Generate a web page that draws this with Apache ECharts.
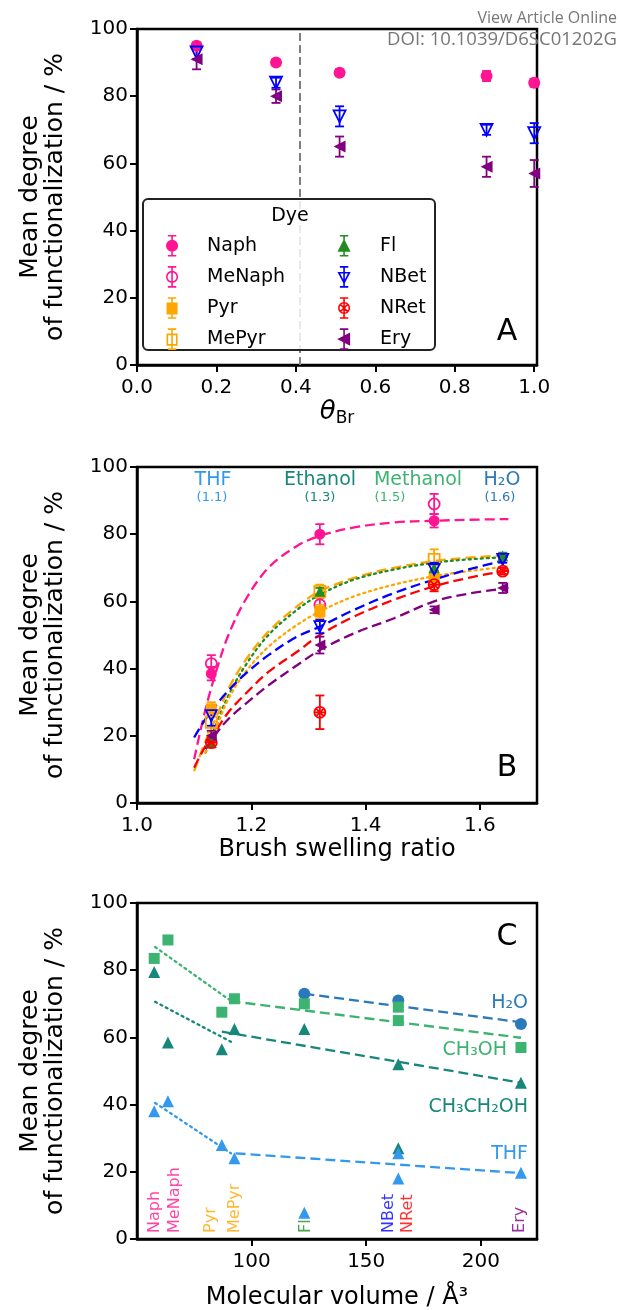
<!DOCTYPE html>
<html><head><meta charset="utf-8">
<script src="https://cdn.jsdelivr.net/npm/echarts@6/dist/echarts.min.js"></script>
<style>html,body{margin:0;padding:0;background:#fff}#c{width:620px;height:1310px}</style>
</head><body><div id="c"></div>
<script>
// ================= DATA =================
const dyes = ['Naph','MeNaph','Pyr','MePyr','Fl','NBet','NRet','Ery'];
const pctTicks = [0, 20, 40, 60, 80, 100];

// ---- Panel A: degree vs theta_Br ----
const thetaTicks = [0, 0.2, 0.4, 0.6, 0.8, 1.0];
const thetaBr = [0.15, 0.35, 0.51, 0.88, 1.0];
const aNaph = [95, 90, 87, 86, 84];
const aNaphErr = [1, 0.8, 1, 1.5, 1.2];
const aNBet = [93, 84, 74, 70, 69];
const aNBetErr = [2, 1.5, 3, 1.5, 3];
const aEry = [91, 80, 65, 59, 57];
const aEryErr = [3, 2, 3, 3, 4];
const thetaDivider = 0.41;

// ---- Panel B: degree vs brush swelling ratio ----
const swellingTicks = [1.0, 1.2, 1.4, 1.6];
const swelling = [1.13, 1.32, 1.52, 1.64];          // THF, Ethanol, Methanol, H2O
const solventNames = ['THF', 'Ethanol', 'Methanol', 'H₂O'];
const solventRatios = ['(1.1)', '(1.3)', '(1.5)', '(1.6)'];
const bNaph   = [38.5, 80, 84, null];   const bNaphErr   = [2, 3, 2, 0];
const bMeNaph = [41.5, 59, 89, null];   const bMeNaphErr = [2.5, 2, 3, 0];
const bPyr    = [28, 57, 67, null];     const bPyrErr    = [2, 2, 2, 0];
const bMePyr  = [24, 63, 72.5, null];   const bMePyrErr  = [3, 2, 3, 0];
const bFl     = [18, 63, 70, 73.5];     const bFlErr     = [1, 1, 1, 1];
const bNBet   = [26, 52.5, 69.5, 72.5]; const bNBetErr   = [3, 2, 2, 1];
const bNRet   = [18, 27, 65, 69];       const bNRetErr   = [1.5, 5, 2, 1];
const bEry    = [20, 47, 57.5, 64];     const bEryErr    = [1.5, 2.5, 1, 1.5];
// fitted curves
const fitX      = [1.10, 1.12, 1.14, 1.16, 1.19, 1.23, 1.28, 1.32, 1.38, 1.45, 1.52, 1.58, 1.65];
const fitNaph   = [13, 28, 40, 50, 60.5, 70, 76.5, 79.5, 82, 83.5, 84, 84.3, 84.5];
const fitMePyr  = [9.5, 18.5, 26, 34, 42.5, 51, 58.5, 63, 67, 70, 72, 73, 73.8];
const fitFl     = [null, 15, 24, 32, 41, 50, 57.5, 62, 66.5, 69.5, 71.5, 72.5, 73.2];
const fitPyr    = [null, 15, 23, 31, 39, 46.5, 53, 57, 61.5, 65, 67.5, 69, 70.5];
const fitNBet   = [19.5, 25, 29.5, 33.5, 38.5, 44, 49.5, 52.5, 57.5, 62.5, 66.5, 69.5, 72.5];
const fitNRet   = [10.5, 17, 22, 27, 32.5, 39, 45, 50, 55.5, 60.5, 64.5, 67, 69.3];
const fitEry    = [null, 16, 21, 25, 29.5, 35, 41, 45.5, 50.5, 55, 60, 62.3, 64];

// ---- Panel C: degree vs molecular volume ----
const volumeTicks = [100, 150, 200];
const molVolume = [57.5, 63.5, 87, 92.5, 123, 164, 164, 217.5];   // per dye
const labelVolume = [57.9, 66.6, 82.4, 92.9, 123.5, 159.8, 168.1, 217.1];
const cH2O  = [null, null, null, null, 73, 71, null, 64];
const cMeOH = [83.5, 89, 67.5, 71.5, 70, 69, 65, 57];
const cEtOH = [79.5, 58.5, 56.5, 62.5, 62.5, 52, 27, 46.5];
const cTHF  = [38, 41, 28, 24, 7.8, 25.5, 18, 19.7];
const trendH2Odash  = [[123, 73], [217.5, 64.5]];
const trendMeOHdot  = [[57.9, 86.9], [91.5, 70.6]];
const trendMeOHdash = [[90.8, 70.8], [217.5, 59.9]];
const trendEtOHdot  = [[57.9, 70.6], [91, 58.7]];
const trendEtOHdash = [[87, 61.7], [217.5, 46.5]];
const trendTHFdot   = [[57.9, 40.5], [91, 25.5]];
const trendTHFdash  = [[93, 25.5], [217.5, 19.6]];

// ================= STYLE =================
const F = 'DejaVu Sans';
const TICK_FS = 20;
const PINK = '#ff1493', ORANGE = '#ffa500', GREEN = '#228b22', BLUE = '#0000ff', RED = '#ff0000', PURPLE = '#800080';
const C_H2O = '#2b79b9', C_MEOH = '#3cb371', C_ETOH = '#17877b', C_THF = '#3399ee';
const SYM = {
  circle: 'circle',
  square: 'rect',
  triUp: 'triangle',
  triDown: 'path://M0,0L10,0L5,9Z',
  triLeft: 'path://M0,5L9,0L9,10Z',
  nret: 'path://M5,0A5,5,0,1,1,5,10A5,5,0,1,1,5,0ZM1.6,1.6L8.4,8.4M8.4,1.6L1.6,8.4M0,5L10,5'
};
const ICON = {
  circle: 'M6,4.5A5,5,0,1,1,6,14.5A5,5,0,1,1,6,4.5Z',
  square: 'M1.5,5L10.5,5L10.5,15L1.5,15Z',
  triUp: 'M6,4.5L11,14.5L1,14.5Z',
  triDown: 'M1,5.5L11,5.5L6,15Z',
  triLeft: 'M1,9.5L11,4.5L11,14.5Z',
  nret: 'M6,4.5A5,5,0,1,1,6,14.5A5,5,0,1,1,6,4.5ZM2.6,6.1L9.4,12.9M9.4,6.1L2.6,12.9'
};
const ERRICON = 'M6,0L6,19M2,0L10,0M2,19L10,19';
const dyeStyle = {
  Naph:   {c: PINK,   sym: 'circle',  filled: true},
  MeNaph: {c: PINK,   sym: 'circle',  filled: false},
  Pyr:    {c: ORANGE, sym: 'square',  filled: true},
  MePyr:  {c: ORANGE, sym: 'square',  filled: false},
  Fl:     {c: GREEN,  sym: 'triUp',   filled: true},
  NBet:   {c: BLUE,   sym: 'triDown', filled: false},
  NRet:   {c: RED,    sym: 'nret',    filled: false},
  Ery:    {c: PURPLE, sym: 'triLeft', filled: true}
};

// ================= HELPERS =================
function pairs(xs, ys) { return xs.map((x, i) => ys[i] == null ? null : [x, ys[i]]).filter(Boolean); }
function triples(xs, ys, es) { return xs.map((x, i) => ys[i] == null ? null : [x, ys[i], es[i]]).filter(Boolean); }

function errSeries(name, gi, xs, ys, es) {
  const color = dyeStyle[name].c;
  return {
    type: 'custom', name: name + ' error', xAxisIndex: gi, yAxisIndex: gi, z: 2, silent: true,
    data: triples(xs, ys, es), encode: {x: 0, y: 1},
    renderItem: (p, api) => {
      const x = api.value(0), y = api.value(1), e = api.value(2);
      const t = api.coord([x, y + e]), b = api.coord([x, y - e]), w = 4.5;
      const st = {stroke: color, lineWidth: 1.8};
      return {type: 'group', children: [
        {type: 'line', shape: {x1: t[0], y1: t[1], x2: b[0], y2: b[1]}, style: st},
        {type: 'line', shape: {x1: t[0] - w, y1: t[1], x2: t[0] + w, y2: t[1]}, style: st},
        {type: 'line', shape: {x1: b[0] - w, y1: b[1], x2: b[0] + w, y2: b[1]}, style: st}
      ]};
    }
  };
}
function dotSeries(name, gi, xs, ys, size, extra) {
  const s = dyeStyle[name];
  return Object.assign({
    type: 'scatter', name: name, xAxisIndex: gi, yAxisIndex: gi, z: 3,
    symbol: SYM[s.sym], symbolSize: size, emphasis: {disabled: true},
    itemStyle: {color: s.filled ? s.c : 'rgba(255,255,255,0)', borderColor: s.c, borderWidth: s.filled ? 0 : 1.8, opacity: 1},
    data: pairs(xs, ys)
  }, extra || {});
}
function fitSeries(name, ys, dotted) {
  const c = dyeStyle[name].c;
  return {
    type: 'line', name: name + ' fit', xAxisIndex: 1, yAxisIndex: 1, z: 1, smooth: 0.35,
    showSymbol: false, silent: true, emphasis: {disabled: true},
    lineStyle: {color: c, width: 2.3, type: dotted ? [2, 4] : [10, 5], cap: dotted ? 'round' : 'butt'},
    data: pairs(fitX, ys)
  };
}
function trendSeries(pts, color, dotted) {
  return {
    type: 'line', xAxisIndex: 2, yAxisIndex: 2, z: 1, showSymbol: false, silent: true,
    lineStyle: {color: color, width: 2.3, type: dotted ? [2, 4] : [10, 5], cap: dotted ? 'round' : 'butt'},
    data: pts
  };
}
function solventSeries(name, ys, color, symbol, size) {
  return {
    type: 'scatter', name: name, xAxisIndex: 2, yAxisIndex: 2, z: 3, symbol: symbol, symbolSize: size,
    emphasis: {disabled: true}, itemStyle: {color: color, opacity: 1},
    data: pairs(molVolume, ys)
  };
}
function fmt1(v) { return v.toFixed(1); }

function yAxis(gi) {
  return {
    gridIndex: gi, type: 'value', min: 0, max: 100, interval: 20,
    axisLine: {show: true, onZero: false, lineStyle: {color: '#000', width: 2.5}},
    axisTick: {show: true, length: 7, lineStyle: {color: '#000', width: 2}, customValues: pctTicks},
    axisLabel: {color: '#000', fontSize: TICK_FS, fontFamily: F, margin: 9, customValues: pctTicks},
    splitLine: {show: false},
    name: 'Mean degree\nof functionalization / %', nameLocation: 'middle', nameRotate: 90, nameGap: 69,
    nameTextStyle: {color: '#000', fontSize: 25, fontFamily: F, lineHeight: 25}
  };
}
function xAxis(gi, min, max, ticks, formatter, name, nameGap, nameStyle) {
  return {
    gridIndex: gi, type: 'value', min: min, max: max,
    axisLine: {show: true, onZero: false, lineStyle: {color: '#000', width: 2.5}},
    axisTick: {show: true, length: 7, lineStyle: {color: '#000', width: 2}, customValues: ticks},
    axisLabel: {color: '#000', fontSize: TICK_FS, fontFamily: F, margin: 13, customValues: ticks, formatter: formatter},
    splitLine: {show: false},
    name: name, nameLocation: 'middle', nameGap: nameGap,
    nameTextStyle: Object.assign({color: '#000', fontSize: 24, fontFamily: F}, nameStyle || {})
  };
}

// ================= SERIES =================
const series = [];
// Panel A
series.push(errSeries('Naph', 0, thetaBr, aNaph, aNaphErr));
series.push(errSeries('NBet', 0, thetaBr, aNBet, aNBetErr));
series.push(errSeries('Ery', 0, thetaBr, aEry, aEryErr));
dyes.forEach(d => {
  const ys = d === 'Naph' ? aNaph : d === 'NBet' ? aNBet : d === 'Ery' ? aEry : [];
  const extra = d === 'Naph' ? {markLine: {silent: true, symbol: 'none', label: {show: false},
      lineStyle: {color: '#808080', type: [8, 4], width: 2}, data: [{xAxis: thetaDivider}]}} : null;
  series.push(dotSeries(d, 0, thetaBr, ys, 12, extra));
});
// Panel B
series.push(fitSeries('Naph', fitNaph, false));
series.push(fitSeries('MePyr', fitMePyr, false));
series.push(fitSeries('Fl', fitFl, true));
series.push(fitSeries('Pyr', fitPyr, true));
series.push(fitSeries('NBet', fitNBet, false));
series.push(fitSeries('NRet', fitNRet, false));
series.push(fitSeries('Ery', fitEry, false));
const bVals = {Naph: [bNaph, bNaphErr], MeNaph: [bMeNaph, bMeNaphErr], Pyr: [bPyr, bPyrErr], MePyr: [bMePyr, bMePyrErr],
  Fl: [bFl, bFlErr], NBet: [bNBet, bNBetErr], NRet: [bNRet, bNRetErr], Ery: [bEry, bEryErr]};
dyes.forEach(d => series.push(errSeries(d, 1, swelling, bVals[d][0], bVals[d][1])));
dyes.forEach(d => series.push(dotSeries(d, 1, swelling, bVals[d][0], 11)));
// Panel C
series.push(trendSeries(trendH2Odash, C_H2O, false));
series.push(trendSeries(trendMeOHdot, C_MEOH, true));
series.push(trendSeries(trendMeOHdash, C_MEOH, false));
series.push(trendSeries(trendEtOHdot, C_ETOH, true));
series.push(trendSeries(trendEtOHdash, C_ETOH, false));
series.push(trendSeries(trendTHFdot, C_THF, true));
series.push(trendSeries(trendTHFdash, C_THF, false));
series.push(solventSeries('H₂O', cH2O, C_H2O, 'circle', 12));
series.push(solventSeries('CH₃OH', cMeOH, C_MEOH, 'rect', 11));
series.push(solventSeries('CH₃CH₂OH', cEtOH, C_ETOH, 'triangle', 12));
series.push(solventSeries('THF', cTHF, C_THF, 'triangle', 12));
// dye name labels along the bottom of panel C
series.push({
  type: 'scatter', xAxisIndex: 2, yAxisIndex: 2, z: 4, symbolSize: 0, silent: true,
  data: dyes.map((d, i) => ({
    value: [labelVolume[i], 1.8], name: d,
    label: {show: true, formatter: d, rotate: 90, position: [0, 0], align: 'left', verticalAlign: 'middle',
      color: dyeStyle[d].c, fontSize: 16, fontFamily: F}
  }))
});

// ================= LEGEND (panel A) =================
function legendItem(d) {
  const s = dyeStyle[d];
  return {name: d, icon: 'path://' + ERRICON + ICON[s.sym],
    itemStyle: {color: s.filled ? s.c : 'rgba(255,255,255,0)', borderColor: s.c, borderWidth: 1.6}};
}
function legendCommon(padLeft) {
  return {orient: 'vertical', padding: 0, itemWidth: 12, itemHeight: 20, itemGap: 9.5,
    selectedMode: false, z: 7,
    textStyle: {color: '#000', fontSize: 19, fontFamily: F, lineHeight: 20, padding: [0, 0, 0, padLeft]}};
}
function grid(top) {
  return {left: 137, top: top, width: 400, height: 336, show: true, borderColor: '#000', borderWidth: 2.5,
    backgroundColor: 'transparent', containLabel: false, outerBoundsMode: 'none'};
}

const option = {
  animation: false,
  backgroundColor: '#fff',
  grid: [grid(29), grid(467), grid(903)],
  xAxis: [
    xAxis(0, 0, 1.007, thetaTicks, fmt1, '{t|θ}{s|Br}', 31,
      {rich: {t: {fontSize: 26, fontStyle: 'italic', fontFamily: F, lineHeight: 31},
              s: {fontSize: 17, fontFamily: F, verticalAlign: 'bottom', lineHeight: 31}}}),
    xAxis(1, 1.0, 1.7, swellingTicks, fmt1, 'Brush swelling ratio', 35),
    xAxis(2, 50, 224.5, volumeTicks, v => String(Math.round(v)), 'Molecular volume / Å³', 47)
  ],
  yAxis: [yAxis(0), yAxis(1), yAxis(2)],
  legend: [
    Object.assign({left: 166, top: 235, data: ['Naph', 'MeNaph', 'Pyr', 'MePyr'].map(legendItem)}, legendCommon(24)),
    Object.assign({left: 338, top: 235, data: ['Fl', 'NBet', 'NRet', 'Ery'].map(legendItem)}, legendCommon(25))
  ],
  graphic: {elements: [
    {type: 'rect', z: 6, shape: {x: 143, y: 199, width: 292, height: 151, r: 5},
      style: {fill: 'rgba(255,255,255,0.82)', stroke: '#222', lineWidth: 2}},
    {type: 'text', z: 7, x: 290, y: 216, style: {text: 'Dye', fill: '#000', fontSize: 19, fontFamily: F, align: 'center', verticalAlign: 'middle'}},
    {type: 'text', z: 7, x: 507, y: 332, style: {text: 'A', fill: '#000', fontSize: 30, fontFamily: F, align: 'center', verticalAlign: 'middle'}},
    {type: 'text', z: 7, x: 507, y: 768, style: {text: 'B', fill: '#000', fontSize: 30, fontFamily: F, align: 'center', verticalAlign: 'middle'}},
    {type: 'text', z: 7, x: 507, y: 937, style: {text: 'C', fill: '#000', fontSize: 30, fontFamily: F, align: 'center', verticalAlign: 'middle'}},
    // solvent headers in B
    {type: 'text', z: 7, x: 213, y: 480, style: {text: solventNames[0], fill: C_THF, fontSize: 19, fontFamily: F, align: 'center', verticalAlign: 'middle'}},
    {type: 'text', z: 7, x: 320, y: 480, style: {text: solventNames[1], fill: C_ETOH, fontSize: 19, fontFamily: F, align: 'center', verticalAlign: 'middle'}},
    {type: 'text', z: 7, x: 418, y: 480, style: {text: solventNames[2], fill: C_MEOH, fontSize: 19, fontFamily: F, align: 'center', verticalAlign: 'middle'}},
    {type: 'text', z: 7, x: 502, y: 480, style: {text: solventNames[3], fill: C_H2O, fontSize: 19, fontFamily: F, align: 'center', verticalAlign: 'middle'}},
    {type: 'text', z: 7, x: 212, y: 498, style: {text: solventRatios[0], fill: C_THF, fontSize: 13, fontFamily: F, align: 'center', verticalAlign: 'middle'}},
    {type: 'text', z: 7, x: 320, y: 498, style: {text: solventRatios[1], fill: C_ETOH, fontSize: 13, fontFamily: F, align: 'center', verticalAlign: 'middle'}},
    {type: 'text', z: 7, x: 390, y: 498, style: {text: solventRatios[2], fill: C_MEOH, fontSize: 13, fontFamily: F, align: 'center', verticalAlign: 'middle'}},
    {type: 'text', z: 7, x: 500, y: 498, style: {text: solventRatios[3], fill: C_H2O, fontSize: 13, fontFamily: F, align: 'center', verticalAlign: 'middle'}},
    // solvent labels in C
    {type: 'text', z: 7, x: 528, y: 1003, style: {text: 'H₂O', fill: C_H2O, fontSize: 19, fontFamily: F, align: 'right', verticalAlign: 'middle'}},
    {type: 'text', z: 7, x: 507, y: 1050, style: {text: 'CH₃OH', fill: C_MEOH, fontSize: 19, fontFamily: F, align: 'right', verticalAlign: 'middle'}},
    {type: 'text', z: 7, x: 528, y: 1107, style: {text: 'CH₃CH₂OH', fill: C_ETOH, fontSize: 19, fontFamily: F, align: 'right', verticalAlign: 'middle'}},
    {type: 'text', z: 7, x: 528, y: 1154, style: {text: 'THF', fill: C_THF, fontSize: 19, fontFamily: F, align: 'right', verticalAlign: 'middle'}},
    // page header
    {type: 'text', z: 8, x: 617, y: 18, style: {text: 'View Article Online', fill: '#777', fontSize: 16, fontFamily: 'Open Sans', align: 'right', verticalAlign: 'middle'}},
    {type: 'text', z: 8, x: 617, y: 40, style: {text: 'DOI: 10.1039/D6SC01202G', fill: '#777', fontSize: 18.5, fontFamily: 'Open Sans', align: 'right', verticalAlign: 'middle'}}
  ]},
  series: series
};
const chart = echarts.init(document.getElementById('c'), null, {renderer: 'canvas'});
chart.setOption(option);
</script></body></html>
